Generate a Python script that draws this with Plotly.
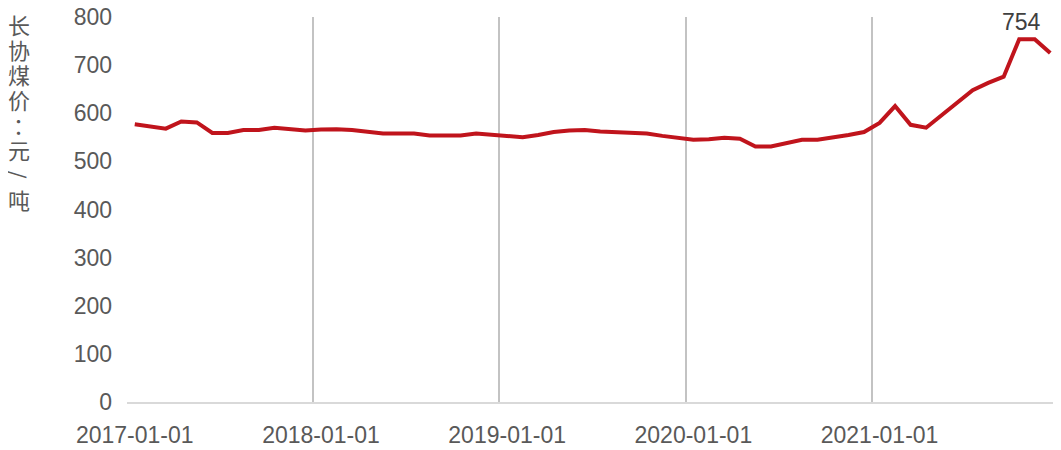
import plotly.graph_objects as go

# ---- data ----
years = [2017, 2018, 2019, 2020, 2021]
months = [f"{y}-{m:02d}-01" for y in years for m in range(1, 13)]
price_2017 = [577, 572, 568, 583, 581, 559, 559, 565, 565, 570, 568, 564]
price_2018 = [566, 567, 565, 562, 558, 558, 558, 554, 553, 554, 558, 556]
price_2019 = [553, 550, 555, 561, 564, 565, 562, 560, 559, 558, 553, 548]
price_2020 = [545, 546, 549, 547, 531, 531, 538, 545, 545, 549, 555, 561]
price_2021 = [580, 615, 576, 570, 596, 622, 648, 663, 676, 754, 754, 725]
prices = price_2017 + price_2018 + price_2019 + price_2020 + price_2021
tick_labels = [f"{y}-01-01" for y in years]
y_title = "长协煤价：元/吨"
peak_label = "754"

TXT = "#595959"
FONT = "Liberation Sans, Arial, sans-serif"
n = len(months)

fig = go.Figure()
fig.add_trace(go.Scatter(
    x=months, y=prices, mode="lines",
    line=dict(color="#C0141C", width=4),
    hoverinfo="x+y", showlegend=False,
))
# invisible helper trace so the boundary-grid axis is drawn
fig.add_trace(go.Scatter(
    x=[-0.5, n - 0.5], y=[None, None], xaxis="x2", mode="lines",
    showlegend=False, hoverinfo="skip",
))

peak_idx = prices.index(max(prices))
fig.add_annotation(
    x=months[peak_idx], y=prices[peak_idx], text=peak_label,
    showarrow=False, yanchor="bottom", xanchor="center", yshift=2, xshift=2,
    font=dict(family=FONT, size=23, color="#404040"),
)

# vertical stacked y-axis title
step = 25
for k, ch in enumerate(y_title):
    fig.add_annotation(
        xref="paper", yref="paper", x=0, y=1,
        xshift=-108 + (5 if ch == "：" else 0), yshift=-7 - step * k,
        text=ch, showarrow=False, xanchor="center", yanchor="middle",
        textangle=90 if ch == "/" else 0,
        font=dict(family="Noto Sans CJK SC", size=22, color=TXT),
    )

fig.update_layout(
    width=1053, height=442,
    margin=dict(l=119, r=3, t=9, b=48),
    paper_bgcolor="white", plot_bgcolor="white",
    font=dict(family=FONT, color=TXT, size=23),
    xaxis=dict(
        type="category",
        categoryorder="array", categoryarray=months,
        tickmode="array", tickvals=tick_labels, ticktext=tick_labels,
        tickangle=0, ticks="", automargin=False,
        showgrid=False,
        showline=True, linecolor="#d9d9d9", linewidth=1.5,
        tickfont=dict(family=FONT, size=23, color=TXT),
        ticklabelstandoff=12,
        range=[-0.5, n - 0.5],
    ),
    xaxis2=dict(
        overlaying="x", anchor="y", range=[-0.5, n - 0.5],
        tickmode="array", tickvals=[12 * k - 0.5 for k in range(1, len(years))],
        showticklabels=False, ticks="", showline=False, zeroline=False,
        showgrid=True, gridcolor="#c3c3c3", gridwidth=1.5,
    ),
    yaxis=dict(
        range=[0, 800], dtick=100, tick0=0, automargin=False,
        showgrid=False, zeroline=False, showline=False, ticks="",
        tickfont=dict(family=FONT, size=23, color=TXT),
        ticklabelstandoff=14, ticklabeloverflow="allow",
    ),
)

fig.write_html("out.html")
